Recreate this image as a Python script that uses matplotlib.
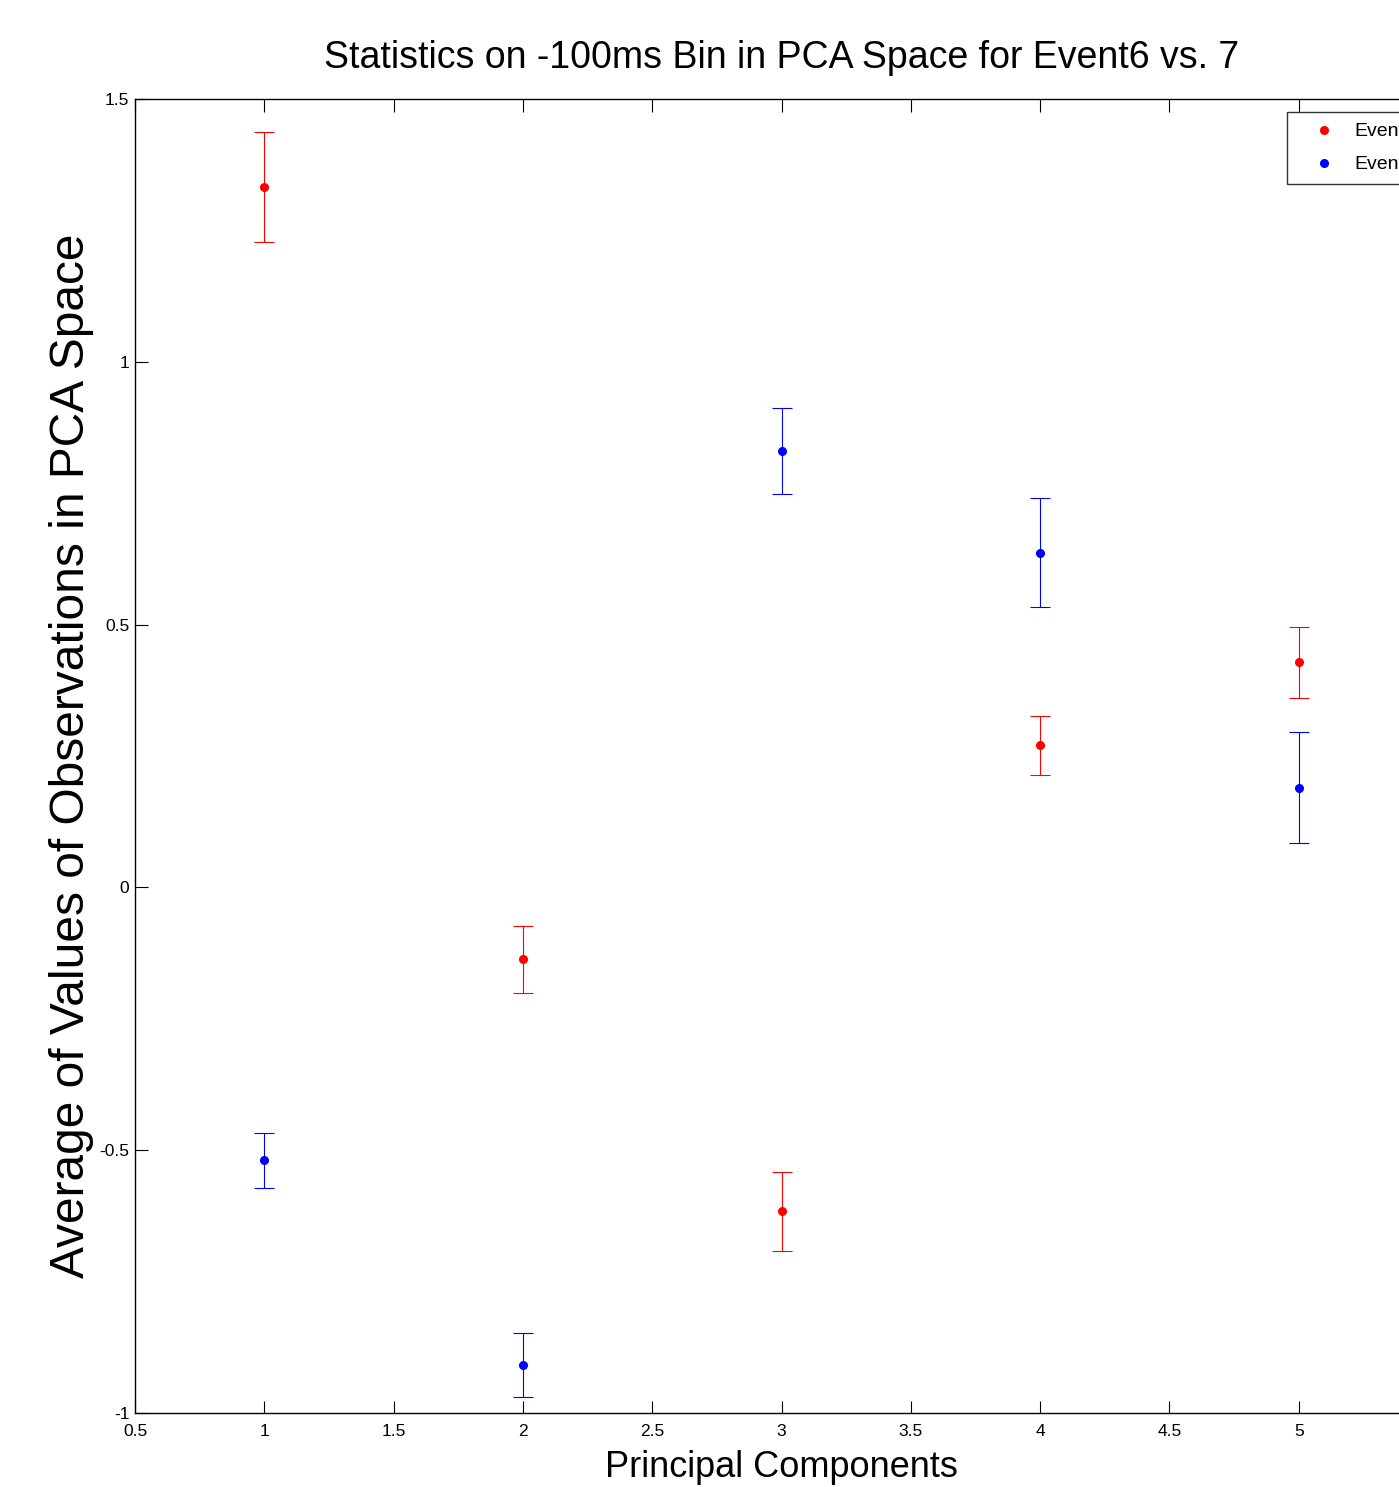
import matplotlib
matplotlib.use("Agg")
import matplotlib.pyplot as plt
from matplotlib.lines import Line2D
from matplotlib.ticker import FuncFormatter

components = [1, 2, 3, 4, 5]
event6_mean = [1.332, -0.137, -0.616, 0.270, 0.428]
event6_err = [0.105, 0.064, 0.075, 0.057, 0.068]
event7_mean = [-0.519, -0.909, 0.831, 0.637, 0.190]
event7_err = [0.052, 0.061, 0.082, 0.103, 0.105]
series_labels = ["Event6", "Event7"]
series_colors = ["red", "blue"]
xticks = [0.5, 1, 1.5, 2, 2.5, 3, 3.5, 4, 4.5, 5]
yticks = [-1, -0.5, 0, 0.5, 1, 1.5]

font = "Liberation Sans"

fig = plt.figure(figsize=(13.99, 14.87), dpi=100)
ax = fig.add_axes([135/1399, 1-1413/1487, (1428-135)/1399, (1413-99)/1487])

for mean, err, col, lab in zip([event6_mean, event7_mean], [event6_err, event7_err],
                               series_colors, series_labels):
    ax.errorbar(components, mean, yerr=err, fmt='o', color=col, ecolor=col,
                elinewidth=0.8, capsize=7, capthick=0.8, markersize=5.5, label=lab)

ax.set_xlim(0.5, 5.5)
ax.set_ylim(-1, 1.5)
ax.set_xticks(xticks)
ax.set_yticks(yticks)
fmt = FuncFormatter(lambda v, p: ("%g" % v))
ax.xaxis.set_major_formatter(fmt)
ax.yaxis.set_major_formatter(fmt)
ax.tick_params(direction='in', length=9, width=0.8, top=True, right=True,
               labelsize=12.5)
ax.tick_params(axis='x', pad=8)
ax.tick_params(axis='y', pad=4)
for lab in ax.get_xticklabels() + ax.get_yticklabels():
    lab.set_fontfamily(font)
for s in ax.spines.values():
    s.set_linewidth(1.0)

ax.set_title("Statistics on -100ms Bin in PCA Space for Event6 vs. 7",
             fontsize=27, family=font, pad=22)
ax.set_xlabel("Principal Components", fontsize=26, family=font, labelpad=8)
ax.set_ylabel("Average of Values of Observations in PCA Space", fontsize=34.5,
              family=font, labelpad=4)

handles = [Line2D([], [], marker='o', color=c, linestyle='none', markersize=5.5)
           for c in series_colors]
leg = fig.legend(handles, series_labels, loc='upper left',
                 bbox_to_anchor=(1287/1399, 1-112/1487),
                 frameon=True, fancybox=False, edgecolor='black',
                 prop={'family': font, 'size': 14},
                 handlelength=2.7, handletextpad=0.2, borderpad=0.55,
                 labelspacing=0.8, borderaxespad=0)
leg.get_frame().set_linewidth(1.0)

fig.savefig("out.png", dpi=100)
